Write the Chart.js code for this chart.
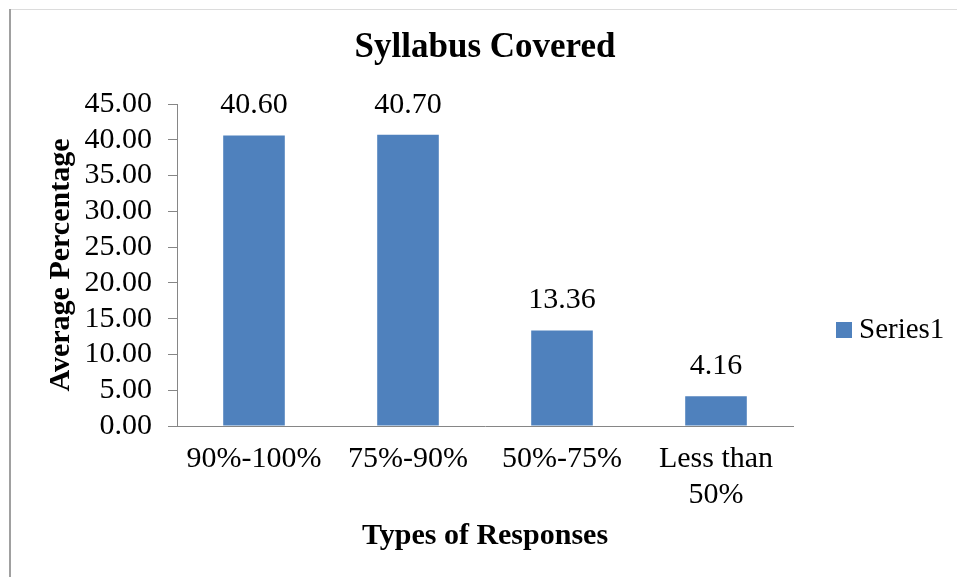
<!DOCTYPE html>
<html><head><meta charset="utf-8">
<script src="https://cdn.jsdelivr.net/npm/chart.js@4"></script>
<style>html,body{margin:0;padding:0;background:#fff;overflow:hidden}canvas{display:block}</style>
</head><body>
<canvas id="c" width="957" height="577"></canvas>
<script>
const chartTitle = "Syllabus Covered";
const xAxisTitle = "Types of Responses";
const yAxisTitle = "Average Percentage";
const categories = ["90%-100%", "75%-90%", "50%-75%", ["Less than", "50%"]];
const seriesName = "Series1";
const seriesValues = [40.60, 40.70, 13.36, 4.16];
const yMin = 0, yMax = 45, yStep = 5;

const SERIF = "'Liberation Serif', 'Times New Roman', serif";
const AXIS = '#868686';
const BAR = '#4F81BD';

const frame = {
  id: 'frame',
  beforeDraw(chart) {
    const c = chart.ctx;
    c.save();
    c.fillStyle = '#fff';
    c.fillRect(0, 0, chart.width, chart.height);
    c.strokeStyle = '#dcdcdc'; c.lineWidth = 1;
    c.beginPath(); c.moveTo(9, 9.5); c.lineTo(chart.width, 9.5); c.stroke();
    c.strokeStyle = '#a0a0a0'; c.lineWidth = 2;
    c.beginPath(); c.moveTo(10, 9); c.lineTo(10, chart.height); c.stroke();
    c.restore();
  }
};

const dataLabels = {
  id: 'dataLabels',
  afterDatasetsDraw(chart) {
    const ctx = chart.ctx;
    const meta = chart.getDatasetMeta(0);
    const data = chart.data.datasets[0].data;
    ctx.save();
    ctx.font = '30px ' + SERIF;
    ctx.fillStyle = '#000';
    ctx.textAlign = 'center';
    ctx.textBaseline = 'middle';
    meta.data.forEach((bar, i) => {
      ctx.fillText(Number(data[i]).toFixed(2), bar.x, bar.y - 30);
    });
    ctx.restore();
  }
};

const sideLegend = {
  id: 'sideLegend',
  afterDraw(chart) {
    const ds = chart.data.datasets[0];
    const ctx = chart.ctx;
    const area = chart.chartArea;
    const x = area.right + 43, y = 330;
    ctx.save();
    ctx.fillStyle = ds.backgroundColor;
    ctx.fillRect(x, y - 8, 16, 16);
    ctx.fillStyle = '#000';
    ctx.font = '29px ' + SERIF;
    ctx.textBaseline = 'middle';
    ctx.textAlign = 'left';
    ctx.fillText(ds.label, x + 23, y);
    ctx.restore();
  }
};

new Chart(document.getElementById('c'), {
  type: 'bar',
  data: {
    labels: categories,
    datasets: [{
      label: seriesName,
      data: seriesValues,
      backgroundColor: BAR,
      borderWidth: 0,
      barPercentage: 0.4,
      categoryPercentage: 1.0
    }]
  },
  options: {
    responsive: false,
    animation: false,
    devicePixelRatio: 1,
    layout: { padding: { left: 10, right: 164, top: 0, bottom: 0 } },
    plugins: {
      legend: { display: false },
      tooltip: { enabled: false },
      title: {
        display: true, text: chartTitle, fullSize: false, color: '#000',
        font: { family: SERIF, size: 35, weight: 'bold', lineHeight: 1.2 },
        padding: { top: 27, bottom: 35 }
      }
    },
    scales: {
      x: {
        grid: { display: false, drawTicks: false },
        border: { display: true, color: AXIS, width: 1 },
        ticks: { color: '#000', font: { family: SERIF, size: 30, lineHeight: 1.17 }, padding: 16, maxRotation: 0, autoSkip: false },
        title: { display: true, text: xAxisTitle, color: '#000', font: { family: SERIF, size: 30, weight: 'bold', lineHeight: 1.2 }, padding: { top: 0, bottom: 23 } },
        afterFit(s) { s.height = 151; }
      },
      y: {
        min: yMin, max: yMax,
        ticks: { stepSize: yStep, autoSkip: false, color: '#000', font: { family: SERIF, size: 30, lineHeight: 1 }, padding: 16, callback: v => Number(v).toFixed(2) },
        grid: { display: true, drawOnChartArea: false, drawTicks: true, tickLength: 9, color: AXIS, lineWidth: 1 },
        border: { display: true, color: AXIS, width: 1 },
        title: { display: true, text: yAxisTitle, color: '#000', font: { family: SERIF, size: 30, weight: 'bold', lineHeight: 1.2 }, padding: { top: 33, bottom: 0 } },
        afterFit(s) { s.width = 167; }
      }
    }
  },
  plugins: [frame, dataLabels, sideLegend]
});
</script>
</body></html>
